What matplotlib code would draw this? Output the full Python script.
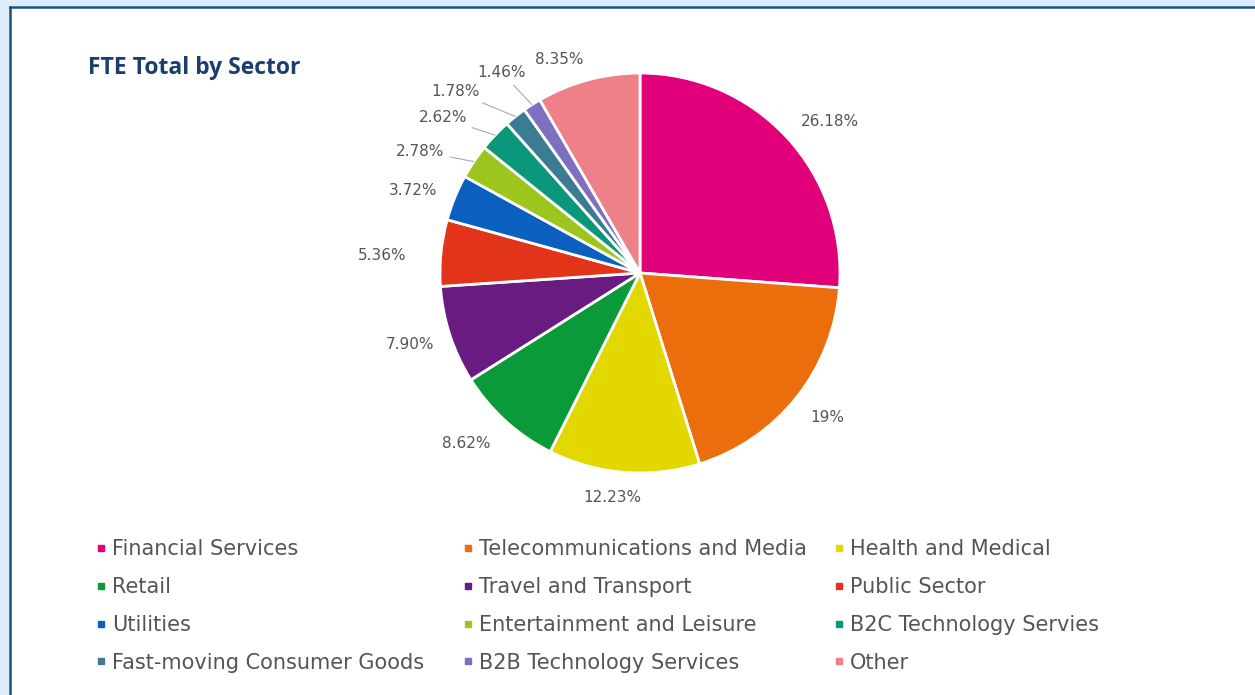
import numpy as np
import matplotlib
matplotlib.use('Agg')
import matplotlib.pyplot as plt
from matplotlib.lines import Line2D
from matplotlib.patches import Rectangle

# Data
sectors = ['Financial Services', 'Telecommunications and Media', 'Health and Medical',
           'Retail', 'Travel and Transport', 'Public Sector',
           'Utilities', 'Entertainment and Leisure', 'B2C Technology Servies',
           'Fast-moving Consumer Goods', 'B2B Technology Services', 'Other']
shares = [26.18, 19.00, 12.23, 8.62, 7.90, 5.36, 3.72, 2.78, 2.62, 1.78, 1.46, 8.35]
share_labels = ['26.18%', '19%', '12.23%', '8.62%', '7.90%', '5.36%',
                '3.72%', '2.78%', '2.62%', '1.78%', '1.46%', '8.35%']
colors = ['#e2007a', '#ec6d0c', '#e2d800', '#0b9a3a', '#6a1b82', '#e2341a',
          '#0a5fbf', '#9cc61e', '#0a977a', '#3c7c92', '#7f6fc0', '#ee8088']

# label layout: radius and angular nudge (deg) relative to wedge middle
lab_r = [1.215, 1.185, 1.13, 1.215, 1.205, 1.29, 1.21, 1.255, 1.255, 1.295, 1.215, 1.14]
lab_da = [-4.2, 0.8, -2.3, -3.3, -0.7, 1.8, 2.1, 4.8, 5.4, 7.0, 1.9, 5.6]
leader = [7, 8, 9, 10]

fig = plt.figure(figsize=(12.55, 6.95), dpi=100)
fig.patch.set_facecolor('white')

# frame: light blue band top/left with dark blue line
fig.patches.append(Rectangle((0, 0), 1, 1, transform=fig.transFigure,
                             facecolor='#dcecf8', edgecolor='none', zorder=-3))
fig.patches.append(Rectangle((9 / 1255, 0), 1, 1 - 6 / 695, transform=fig.transFigure,
                             facecolor='white', edgecolor='none', zorder=-2))
fig.add_artist(Line2D([9.5 / 1255, 9.5 / 1255], [0, 1 - 6.5 / 695], transform=fig.transFigure,
                      color='#1b4f80', lw=1.8))
fig.add_artist(Line2D([9.5 / 1255, 1], [1 - 6.5 / 695, 1 - 6.5 / 695], transform=fig.transFigure,
                      color='#1b4f80', lw=1.8))

# pie axes (centre at 640, 273 px; radius 200 px)
ax = fig.add_axes([(640 - 250) / 1255, (422 - 250) / 695, 500 / 1255, 500 / 695])
wedges, _ = ax.pie(shares, colors=colors, startangle=90, counterclock=False,
                   wedgeprops=dict(edgecolor='white', linewidth=2))
ax.set_xlim(-1.25, 1.25)
ax.set_ylim(-1.25, 1.25)
ax.set_aspect('equal')
ax.axis('off')

for i, w in enumerate(wedges):
    mid = (w.theta1 + w.theta2) / 2
    a = np.deg2rad(mid + lab_da[i])
    tx, ty = lab_r[i] * np.cos(a), lab_r[i] * np.sin(a)
    if i in leader:
        m = np.deg2rad(mid)
        ax.annotate(share_labels[i], xy=(np.cos(m), np.sin(m)), xytext=(tx, ty),
                    ha='center', va='center', fontsize=11, color='#555555',
                    annotation_clip=False,
                    arrowprops=dict(arrowstyle='-', color='#aaaaaa', lw=0.8,
                                    shrinkA=2, shrinkB=0))
    else:
        ax.text(tx, ty, share_labels[i], ha='center', va='center',
                fontsize=11, color='#555555')

fig.text(88 / 1255, 1 - 68 / 695, 'FTE Total by Sector', fontsize=16.5, fontweight='bold',
         color='#1a3f6e', ha='left', va='center', family='Open Sans')

# legend, three columns laid out row by row
col_x = [95, 462, 833]
for c in range(3):
    idx = list(range(c, len(sectors), 3))
    handles = [Line2D([], [], marker='s', markersize=5, linestyle='none',
                      color=colors[k]) for k in idx]
    fig.legend(handles, [sectors[k] for k in idx], loc='upper left',
               bbox_to_anchor=(col_x[c] / 1255, 1 - 539 / 695), frameon=False,
               borderaxespad=0, borderpad=0, handlelength=0.6, handletextpad=0.2,
               labelspacing=0.86, fontsize=15, labelcolor='#555555')

plt.savefig('out.png', dpi=100)
